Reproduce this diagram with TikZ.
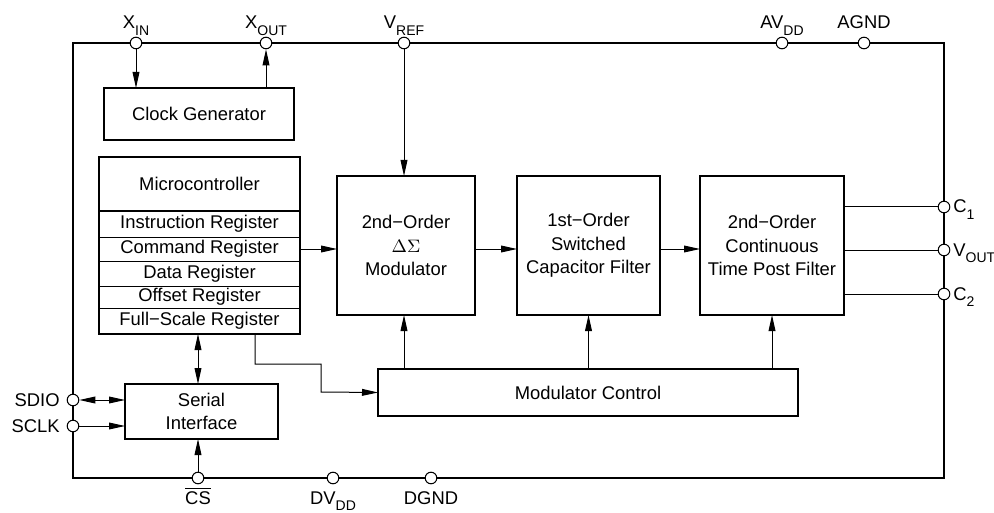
\documentclass[tikz,border=0pt]{standalone}
\usepackage{fontspec}
\setmainfont{Liberation Sans}
\usetikzlibrary{arrows.meta}
\newcommand\pinsub[1]{\raisebox{-3.2pt}{\fontsize{7}{8}\selectfont #1}}

\begin{document}
\begin{tikzpicture}[x=0.5pt,y=-0.5pt,
		every node/.style={font=\fontsize{9.2}{11.7}\selectfont},
		blk/.style={draw,line width=1pt,inner sep=0pt,outer sep=0pt,align=center},
		reg/.style={draw,line width=0.4pt,inner sep=0pt,outer sep=0pt,minimum width=100.5pt},
		pin/.style={circle,draw,fill=white,line width=0.5pt,inner sep=0pt,minimum size=5.8pt},
		sig/.style={line width=0.5pt},
		arr/.style={sig,-{Triangle[length=8pt,width=3.4pt]}},
		darr/.style={sig,{Triangle[length=8pt,width=3.4pt]}-{Triangle[length=8pt,width=3.4pt]}},
		lbl/.style={inner sep=0pt}]
	\useasboundingbox (0,0) rectangle (994,513);
	% chip outline
	\draw[line width=1pt] (73,43) rectangle (944,478);
	% pins
	\node[pin] (xin)  at (136,43) {};
	\node[pin] (xout) at (266,43) {};
	\node[pin] (vref) at (404,43) {};
	\node[pin] (avdd) at (782,43) {};
	\node[pin] (agnd) at (864,43) {};
	\node[pin] (sdio) at (73,400) {};
	\node[pin] (sclk) at (73,426) {};
	\node[pin] (cs)   at (198,478) {};
	\node[pin] (dvdd) at (333,478) {};
	\node[pin] (dgnd) at (431,478) {};
	\node[pin] (cone) at (944,207) {};
	\node[pin] (vout) at (944,250) {};
	\node[pin] (ctwo) at (944,294) {};
	% pin names
	\node[lbl,anchor=base] (xinlbl)  at (136,29) {X\pinsub{IN}};
	\node[lbl,anchor=base] (xoutlbl) at (266,29) {X\pinsub{OUT}};
	\node[lbl,anchor=base] (vreflbl) at (404,29) {V\pinsub{REF}};
	\node[lbl,anchor=base] (avddlbl) at (782,29) {AV\pinsub{DD}};
	\node[lbl,anchor=base] (agndlbl) at (864,29) {AGND};
	\node[lbl,anchor=east] (sdiolbl) at (60,400) {SDIO};
	\node[lbl,anchor=east] (sclklbl) at (60,426) {SCLK};
	\node[lbl,anchor=base] (cslbl)   at (198,504) {$\overline{\mbox{CS}}$};
	\node[lbl,anchor=base] (dvddlbl) at (333,504) {DV\pinsub{DD}};
	\node[lbl,anchor=base] (dgndlbl) at (431,504) {DGND};
	\node[lbl,anchor=base west] (conelbl) at (953,213) {C\pinsub{1}};
	\node[lbl,anchor=base west] (voutlbl) at (953,256) {V\pinsub{OUT}};
	\node[lbl,anchor=base west] (ctwolbl) at (953,300) {C\pinsub{2}};
	% blocks
	\node[blk,minimum width=95pt,minimum height=26pt] (clk) at (199,114) {Clock Generator};
	\node[blk,minimum width=100.5pt,minimum height=27pt] (mctl) at (199.5,184) {Microcontroller};
	\node[reg,minimum height=13pt]   (ireg) at (199.5,224)   {Instruction Register};
	\node[reg,minimum height=12pt]   (creg) at (199.5,249)   {Command Register};
	\node[reg,minimum height=12.5pt] (dreg) at (199.5,273.5) {Data Register};
	\node[reg,minimum height=11pt]   (oreg) at (199.5,297)   {Offset Register};
	\node[reg,minimum height=13pt]   (freg) at (199.5,321)   {Full−Scale Register};
	\draw[line width=1pt] (mctl.north west) rectangle (freg.south east);
	\node[blk,minimum width=69pt,minimum height=69.5pt] (dsm) at (406,245.5) {2nd−Order\\$\Delta\Sigma$\\Modulator};
	\node[blk,minimum width=71.5pt,minimum height=69.5pt] (scf) at (588.5,245.5) {1st−Order\\Switched\\Capacitor Filter};
	\node[blk,minimum width=72pt,minimum height=69.5pt] (ctf) at (772,245.5) {2nd−Order\\Continuous\\Time Post Filter};
	\node[blk,minimum width=210pt,minimum height=23.5pt] (modc) at (588,392.5) {Modulator Control};
	\node[blk,minimum width=76.5pt,minimum height=27.5pt] (ser) at (201.5,411.5) {Serial\\Interface};
	% signal paths
	\draw[arr] (xin) -- (xin |- clk.north);
	\draw[arr] (xout |- clk.north) -- (xout);
	\draw[arr] (vref) -- (vref |- dsm.north);
	\draw[arr] (creg.east) -- (creg.east -| dsm.west);
	\draw[arr] (dsm.east |- creg.east) -- (scf.west |- creg.east);
	\draw[arr] (scf.east |- creg.east) -- (ctf.west |- creg.east);
	\draw[sig] (ctf.east |- cone) -- (cone);
	\draw[sig] (ctf.east |- vout) -- (vout);
	\draw[sig] (ctf.east |- ctwo) -- (ctwo);
	\draw[arr] (modc.north -| vref) -- (vref |- dsm.south);
	\draw[arr] (modc.north -| scf.south) -- (scf.south);
	\draw[arr] (modc.north -| ctf.south) -- (ctf.south);
	\draw[arr] (freg.south) ++(55.5,0) -- ++(0,30) -| ++(66,28) -- (modc.west);
	\draw[darr] (ser.north -| cs) -- (freg.south -| cs);
	\draw[darr] (sdio) -- (sdio -| ser.west);
	\draw[arr] (sclk) -- (sclk -| ser.west);
	\draw[arr] (cs) -- (cs |- ser.south);
\end{tikzpicture}
\end{document}
